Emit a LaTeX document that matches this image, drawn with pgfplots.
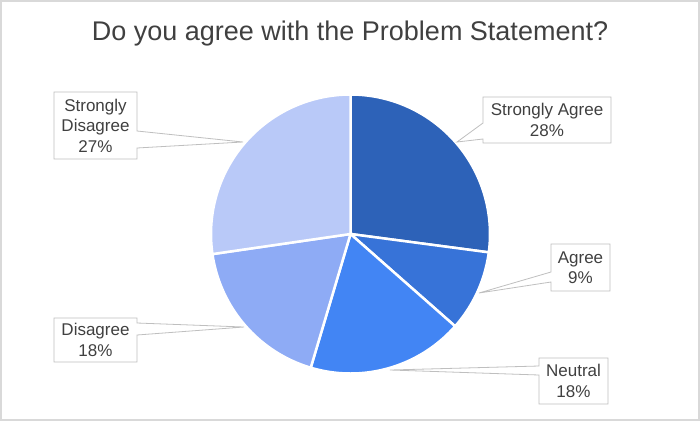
\documentclass[border=0pt]{standalone}
\usepackage{pgfplots}
\pgfplotsset{compat=1.18}
\usepackage{fontspec}
\setmainfont{Liberation Sans}
\definecolor{cSA}{HTML}{2D62B8}
\definecolor{cA}{HTML}{3773D8}
\definecolor{cN}{HTML}{4285F4}
\definecolor{cD}{HTML}{8EABF5}
\definecolor{cSD}{HTML}{B9C9F8}
\definecolor{txt}{HTML}{404040}
\definecolor{boxc}{HTML}{BFBFBF}
\definecolor{frame}{HTML}{D9D9D9}
% shares (percent), clockwise from 12 o'clock
\def\vSA{27.1}\def\vA{9.4}\def\vN{18.1}\def\vD{18.1}\def\vSD{27.3}
\pgfmathsetmacro{\aA}{90}
\pgfmathsetmacro{\aB}{\aA-3.6*\vSA}
\pgfmathsetmacro{\aC}{\aB-3.6*\vA}
\pgfmathsetmacro{\aD}{\aC-3.6*\vN}
\pgfmathsetmacro{\aE}{\aD-3.6*\vD}
\pgfmathsetmacro{\aF}{\aE-3.6*\vSD}
\def\cx{350.5}\def\cy{234}\def\rr{139.5}
\begin{document}
\begin{tikzpicture}
\begin{axis}[
  width=700bp, height=421bp, scale only axis,
  xmin=0, xmax=700, ymin=0, ymax=421, y dir=reverse,
  hide axis, clip=false,
]
\draw[frame, line width=2bp] (1,1) rectangle (699,420);
\node[anchor=base, text=txt, font=\fontsize{27bp}{32bp}\selectfont] at (350,41) {Do you agree with the Problem Statement?};
% slices
\addplot[fill=cSA, draw=white, line width=2.5bp, domain=\aB:\aA, samples=60, variable=\t] ({\cx+\rr*cos(\t)},{\cy-\rr*sin(\t)}) -- (\cx,\cy) -- cycle;
\addplot[fill=cA, draw=white, line width=2.5bp, domain=\aC:\aB, samples=30, variable=\t] ({\cx+\rr*cos(\t)},{\cy-\rr*sin(\t)}) -- (\cx,\cy) -- cycle;
\addplot[fill=cN, draw=white, line width=2.5bp, domain=\aD:\aC, samples=40, variable=\t] ({\cx+\rr*cos(\t)},{\cy-\rr*sin(\t)}) -- (\cx,\cy) -- cycle;
\addplot[fill=cD, draw=white, line width=2.5bp, domain=\aE:\aD, samples=40, variable=\t] ({\cx+\rr*cos(\t)},{\cy-\rr*sin(\t)}) -- (\cx,\cy) -- cycle;
\addplot[fill=cSD, draw=white, line width=2.5bp, domain=\aF:\aE, samples=60, variable=\t] ({\cx+\rr*cos(\t)},{\cy-\rr*sin(\t)}) -- (\cx,\cy) -- cycle;
% callouts
\tikzset{cbox/.style={draw=boxc, fill=white, line width=0.8bp, line join=miter}}
\tikzset{ctxt/.style={text=txt, align=center, inner sep=0pt, font=\fontsize{17bp}{20.5bp}\selectfont}}
\draw[cbox] (483,97) -- (611,97) -- (611,143) -- (483,143) -- (483,139) -- (457,142) -- (483,123) -- cycle;
\node[ctxt] at (547,120) {Strongly Agree\\28\%};
\draw[cbox] (551,244) -- (610,244) -- (610,291) -- (551,291) -- (551,282) -- (479,293) -- (551,272) -- cycle;
\node[ctxt] at (580.5,267.5) {Agree\\9\%};
\draw[cbox] (539,358) -- (608,358) -- (608,404) -- (539,404) -- (539,375) -- (390,370) -- (539,366) -- cycle;
\node[ctxt] at (573.5,381) {Neutral\\18\%};
\draw[cbox] (54,318) -- (137,318) -- (137,323) -- (244,327) -- (137,335) -- (137,362) -- (54,362) -- cycle;
\node[ctxt] at (95.5,340) {Disagree\\18\%};
\draw[cbox] (54,92) -- (137,92) -- (137,131) -- (243,142) -- (137,148) -- (137,159) -- (54,159) -- cycle;
\node[ctxt] at (95.5,125.5) {Strongly\\Disagree\\27\%};
\end{axis}
\end{tikzpicture}
\end{document}
